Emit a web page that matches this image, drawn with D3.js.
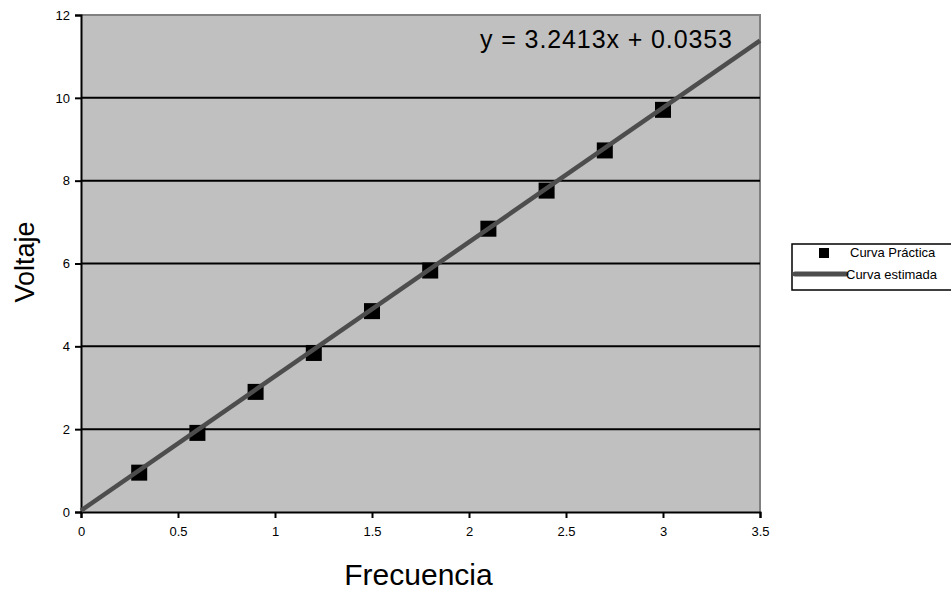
<!DOCTYPE html>
<html>
<head>
<meta charset="utf-8">
<script src="https://cdn.jsdelivr.net/npm/d3@7"></script>
<style>
  body { margin: 0; background: #fff; }
  text { font-family: "Liberation Sans", Arial, sans-serif; }
</style>
</head>
<body>
<div id="chart"></div>
<script>
// Data
var frecuencia = [0.3, 0.6, 0.9, 1.2, 1.5, 1.8, 2.1, 2.4, 2.7, 3.0]
var voltaje = [0.95, 1.91, 2.90, 3.84, 4.85, 5.83, 6.84, 7.76, 8.73, 9.71]
var slope = 3.2413, intercept = 0.0353
var xTicks = [0, 0.5, 1, 1.5, 2, 2.5, 3, 3.5]
var yTicks = [0, 2, 4, 6, 8, 10, 12]
var legendLabels = ["Curva Práctica", "Curva estimada"]

var W = 951, H = 592
var plot = {left: 81, top: 15, right: 760, bottom: 512}
var font = "'Liberation Sans', Arial, sans-serif"

var svg = d3.select("#chart").append("svg")
  .attr("width", W)
  .attr("height", H)

var x = d3.scaleLinear().domain([0, 3.5]).range([plot.left, plot.right])
var y = d3.scaleLinear().domain([0, 12]).range([plot.bottom, plot.top])

// plot background
svg.append("rect")
  .attr("x", plot.left).attr("y", plot.top)
  .attr("width", plot.right - plot.left)
  .attr("height", plot.bottom - plot.top)
  .style("fill", "#c0c0c0")

// top and right border (gray)
svg.append("path")
  .attr("d", "M" + plot.left + "," + plot.top + "H" + plot.right + "V" + plot.bottom)
  .style("fill", "none")
  .style("stroke", "#808080")
  .style("stroke-width", 2)

// gridlines
svg.append("g").selectAll("line")
  .data(yTicks.filter(function(d) { return d > 0 && d < 12 }))
  .enter().append("line")
  .attr("x1", plot.left).attr("x2", plot.right)
  .attr("y1", function(d) { return y(d) })
  .attr("y2", function(d) { return y(d) })
  .style("stroke", "#000")
  .style("stroke-width", 2)

// axes
var xAxis = d3.axisBottom(x).tickValues(xTicks).tickSize(6).tickPadding(9)
  .tickFormat(function(d) { return d })
var yAxis = d3.axisLeft(y).tickValues(yTicks).tickSize(6).tickPadding(5)

var gx = svg.append("g")
  .attr("transform", "translate(0," + plot.bottom + ")")
  .call(xAxis)
var gy = svg.append("g")
  .attr("transform", "translate(" + plot.left + ",0)")
  .call(yAxis)

;[gx, gy].forEach(function(g) {
  g.attr("font-family", null)
  g.select(".domain").style("stroke", "#000").style("stroke-width", 2)
  g.selectAll(".tick line").style("stroke", "#000").style("stroke-width", 2)
  g.selectAll(".tick text")
    .style("font-size", "13px")
    .style("font-family", font)
    .style("fill", "#000")
})

// data markers
svg.append("g").selectAll("rect")
  .data(frecuencia)
  .enter().append("rect")
  .attr("x", function(d) { return x(d) - 8 })
  .attr("y", function(d, i) { return y(voltaje[i]) - 8 })
  .attr("width", 16)
  .attr("height", 16)
  .style("fill", "#000")

// trend line
var trend = [0, 3.5].map(function(d) { return [d, slope * d + intercept] })
svg.append("path")
  .datum(trend)
  .attr("d", d3.line().x(function(d) { return x(d[0]) }).y(function(d) { return y(d[1]) }))
  .style("fill", "none")
  .style("stroke", "#4d4d4d")
  .style("stroke-width", 4.5)

// equation
svg.append("text")
  .attr("x", 480)
  .attr("y", 48)
  .style("font-size", "25px")
  .attr("textLength", 252)
  .attr("lengthAdjust", "spacing")
  .text("y = " + slope + "x + " + intercept)

// axis titles
svg.append("text")
  .attr("x", (plot.left + plot.right) / 2 - 2)
  .attr("y", 585)
  .attr("text-anchor", "middle")
  .style("font-size", "30px")
  .text("Frecuencia")

svg.append("text")
  .attr("transform", "translate(34,262) rotate(-90)")
  .attr("text-anchor", "middle")
  .style("font-size", "27px")
  .text("Voltaje")

// legend
var lg = svg.append("g")
lg.append("rect")
  .attr("x", 792).attr("y", 244)
  .attr("width", 170).attr("height", 46)
  .style("fill", "#fff")
  .style("stroke", "#000")
  .style("stroke-width", 1.5)

lg.append("rect")
  .attr("x", 819).attr("y", 248)
  .attr("width", 10).attr("height", 10)
  .style("fill", "#000")

lg.append("line")
  .attr("x1", 795).attr("x2", 846)
  .attr("y1", 274).attr("y2", 274)
  .style("stroke", "#4d4d4d")
  .style("stroke-width", 5)
  .style("stroke-linecap", "round")

lg.selectAll("text.leg")
  .data(legendLabels)
  .enter().append("text")
  .attr("class", "leg")
  .attr("x", function(d, i) { return i == 0 ? 850 : 846 })
  .attr("y", function(d, i) { return i == 0 ? 257 : 279 })
  .style("font-size", "13px")
  .text(function(d) { return d })
</script>
</body>
</html>
